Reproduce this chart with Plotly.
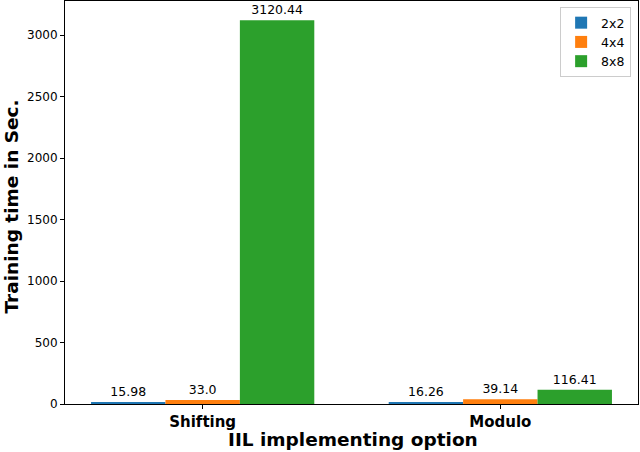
import plotly.graph_objects as go

categories = ["Shifting", "Modulo"]
series_names = ["2x2", "4x4", "8x8"]
values_2x2 = [15.98, 16.26]
values_4x4 = [33.0, 39.14]
values_8x8 = [3120.44, 116.41]
colors = ["#1f77b4", "#ff7f0e", "#2ca02c"]
y_ticks = [0, 500, 1000, 1500, 2000, 2500, 3000]
x_title = "IIL implementing option"
y_title = "Training time in Sec."

FONT = "DejaVu Sans"
fig = go.Figure()
for name, vals, col in zip(series_names, [values_2x2, values_4x4, values_8x8], colors):
    fig.add_trace(go.Bar(
        x=categories, y=vals, name=name,
        marker=dict(color=col, line=dict(width=0)),
        text=[str(v) for v in vals], textposition="outside",
        textfont=dict(family=FONT, size=12.5, color="black"),
        cliponaxis=False,
    ))

fig.update_layout(
    width=640, height=452,
    margin=dict(l=65, r=2, t=1, b=48, autoexpand=False),
    paper_bgcolor="white", plot_bgcolor="white",
    barmode="group", bargap=0.25, bargroupgap=0,
    font=dict(family=FONT, color="black"),
    showlegend=True,
    legend=dict(
        x=0.988, y=0.985, xanchor="right", yanchor="top",
        bgcolor="rgba(255,255,255,0.8)", bordercolor="#cccccc", borderwidth=1,
        font=dict(family=FONT, size=12.5, color="black"),
        tracegroupgap=0,
    ),
    annotations=[
        dict(text=x_title, xref="paper", yref="paper", x=0.503, y=-0.088,
             xanchor="center", yanchor="middle", showarrow=False,
             font=dict(family=FONT, size=18.5, color="black", weight="bold")),
        dict(text=y_title, xref="paper", yref="paper", x=-0.0935, y=0.491,
             xanchor="center", yanchor="middle", showarrow=False, textangle=-90,
             font=dict(family=FONT, size=18.5, color="black", weight="bold")),
    ],
)
fig.update_xaxes(
    range=[-0.4625, 1.4625], automargin=False,
    showline=True, linecolor="black", linewidth=1, mirror=True,
    ticks="outside", ticklen=4, tickcolor="black", tickwidth=1,
    tickfont=dict(family=FONT, size=15, color="black", weight="bold"),
    showgrid=False, zeroline=False,
)
fig.update_yaxes(
    range=[0, 3276.5], automargin=False,
    tickvals=y_ticks, ticktext=[str(t) for t in y_ticks],
    showline=True, linecolor="black", linewidth=1, mirror=True,
    ticks="outside", ticklen=4, tickcolor="black", tickwidth=1,
    tickfont=dict(family=FONT, size=12, color="black"),
    showgrid=False, zeroline=False,
)
fig.write_html("out.html", config={"displayModeBar": False})

# remove the browser's default page margin so the figure sits at the window origin
with open("out.html", "r", encoding="utf-8") as f:
    html = f.read()
html = html.replace("<head>", "<head><style>html,body{margin:0;padding:0;overflow:hidden;}</style>", 1)
with open("out.html", "w", encoding="utf-8") as f:
    f.write(html)
